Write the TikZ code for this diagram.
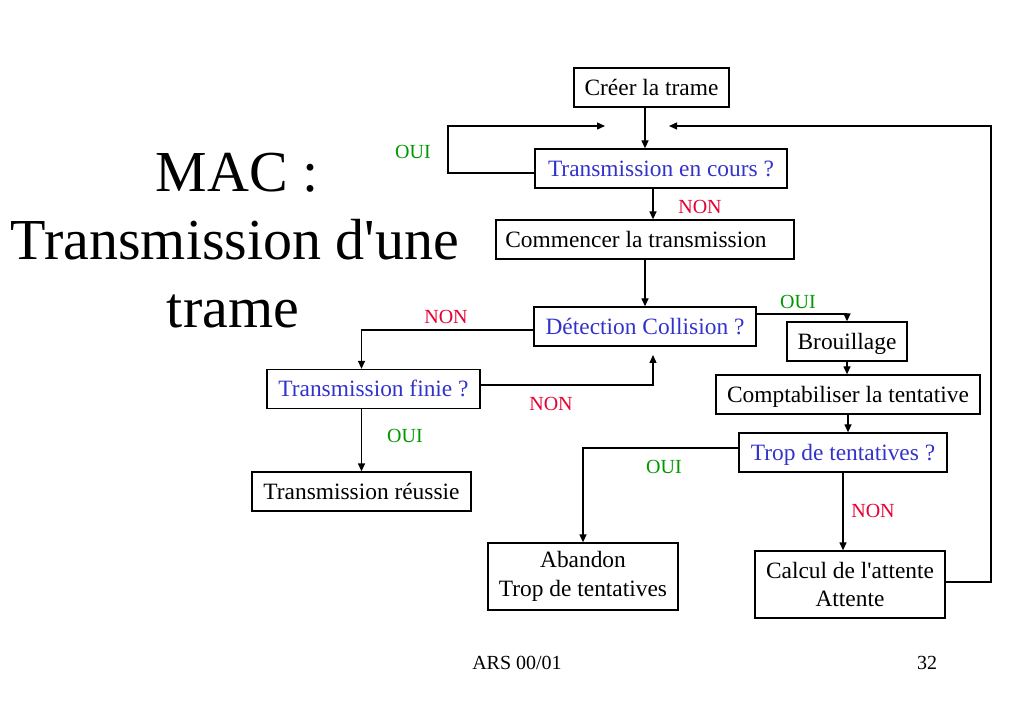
\documentclass[tikz,border=0pt]{standalone}
\usepackage{fontspec}
\setmainfont{Liberation Serif}[Ligatures=TeXOff]
\usetikzlibrary{arrows.meta}
\definecolor{qblue}{RGB}{51,51,204}
\definecolor{nonred}{RGB}{230,0,51}
\definecolor{ouigreen}{RGB}{0,153,0}
\tikzset{
  flow/.style={draw,line width=1.3pt,inner sep=0pt,font=\fontsize{23.4}{28.4}\selectfont,align=center},
  action/.style={flow,text height=19pt,text depth=3pt,minimum height=39pt},
  question/.style={action,text=qblue},
  twoline/.style={flow,minimum height=67pt},
  oui/.style={text=ouigreen,font=\fontsize{20}{24}\selectfont},
  non/.style={text=nonred,font=\fontsize{20}{24}\selectfont},
  link/.style={line width=1.3pt,-{Triangle[length=8pt,width=7pt]}}
}

\begin{document}
\begin{tikzpicture}[x=1pt,y=-1pt]
\useasboundingbox (0,0) rectangle (1023,708);

% title
\node[font=\fontsize{58}{68}\selectfont,anchor=base] (titleA) at (237,192) {MAC :};
\node[font=\fontsize{58}{68}\selectfont,anchor=base] (titleB) at (235,260) {Transmission d'une};
\node[font=\fontsize{58}{68}\selectfont,anchor=base] (titleC) at (233,328) {trame};

% boxes
\node[action,minimum width=155pt] (creer) at (651.5,87.5) {Créer la trame};
\node[question,minimum width=252pt] (encours) at (661,168.5) {Transmission en cours ?};
\node[action,minimum width=298pt] (commencer) at (645,239.5) {Commencer la transmission\kern18pt};
\node[question,minimum width=222pt] (detection) at (645,326.5) {Détection Collision ?};
\node[action,minimum width=120pt] (brouillage) at (847,341.5) {Brouillage};
\node[action,minimum width=264pt] (compta) at (848,394.5) {Comptabiliser la tentative};
\node[question,minimum width=208pt] (trop) at (843,452.5) {Trop de tentatives ?};
\node[twoline,minimum width=190pt] (abandon) at (583,576.5) {Abandon\\Trop de tentatives};
\node[twoline,minimum width=190pt] (calcul) at (850,584.5) {Calcul de l'attente\\Attente};
\node[question,minimum width=213pt] (finie) at (373.5,389) {Transmission finie ?};
\node[action,minimum width=219pt] (reussie) at (361.5,491.5) {Transmission réussie};

% free ends of the loops
\coordinate (loopL) at (448,126);
\coordinate (inL) at (605,126);
\coordinate (loopR) at (991,126);
\coordinate (inR) at (669,126);
\coordinate (upTip) at (653,355);

% connectors
\draw[link] (commencer |- creer.south) -- (commencer |- encours.north);
\draw[link] (encours.west) ++(0,4.5) -| (loopL) -- (inL);
\draw[link] (calcul.east) ++(0,-2.5) -| (loopR) -- (inR);
\draw[link] ([xshift=-8pt]encours.south) -- ([xshift=-8pt]encours.south |- commencer.north);
\draw[link] (commencer.south) -- (detection.north);
\draw[link] (detection.east) ++(0,-12.5) -| (brouillage.north);
\draw[link] (brouillage.south) -- (brouillage.south |- compta.north);
\draw[link] (compta.south) -- (compta.south |- trop.north);
\draw[link] (trop.west) ++(0,-4.5) -| (abandon.north);
\draw[link] (trop.south) -- (trop.south |- calcul.north);
\draw[link] (detection.west) ++(0,3.5) -| (reussie |- finie.north);
\draw[link] (finie.east) ++(0,-4) -| (upTip);
\draw[link] (reussie |- finie.south) -- (reussie.north);

% labels
\node[oui] (ouiA) at (413,152) {OUI};
\node[non] (nonA) at (700,207) {NON};
\node[oui] (ouiB) at (798,302) {OUI};
\node[non] (nonB) at (446,317) {NON};
\node[non] (nonC) at (551,404) {NON};
\node[oui] (ouiC) at (405,436) {OUI};
\node[oui] (ouiD) at (664,467) {OUI};
\node[non] (nonD) at (873,511) {NON};

% footer
\node[font=\fontsize{20}{24}\selectfont,anchor=base] (footer) at (517,669) {ARS 00/01};
\node[font=\fontsize{20}{24}\selectfont,anchor=base] (page) at (927,669) {32};

\end{tikzpicture}
\end{document}
